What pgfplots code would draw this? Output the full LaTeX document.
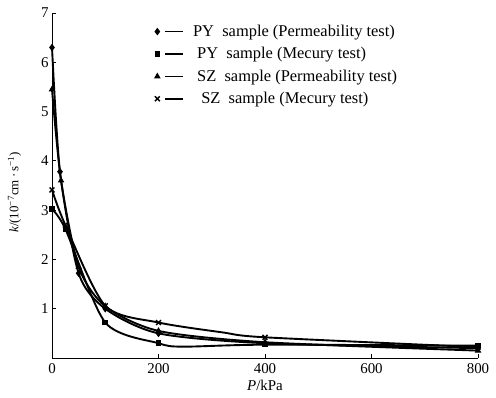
\documentclass[border=0pt]{standalone}
\usepackage{fontspec}
\setmainfont{Liberation Serif}
\usepackage{pgfplots}
\pgfplotsset{compat=1.18}
\begin{document}
\begin{tikzpicture}
\begin{axis}[
  scale only axis,
  width=426bp, height=345bp,
  xmin=0, xmax=800, ymin=0, ymax=7,
  axis lines*=left,
  axis line style={line width=1pt},
  xtick={0,200,400,600,800},
  ytick={1,2,3,4,5,6,7},
  tick align=inside,
  major tick length=4bp,
  tick style={line width=0.8pt,black},
  /pgf/number format/assume math mode=true,
  tick label style={font=\fontsize{15}{17}\selectfont},
  xticklabel style={yshift=-2bp},
  xlabel={\textit{P}/kPa},
  ylabel={\textit{k}/(10\textsuperscript{−7}cm\,·\,s\textsuperscript{−1})},
  every axis x label/.style={at={(rel axis cs:0.5,-0.078)},anchor=center,font=\fontsize{15}{17}\selectfont},
  every axis y label/.style={at={(rel axis cs:-0.088,0.48)},anchor=center,rotate=90,font=\fontsize{13}{15}\selectfont},
  clip=false,
  legend cell align=left,
  legend style={draw=none, fill=none, at={(rel axis cs:0.234,0.977)}, anchor=north west,
    font=\fontsize{16.5}{18}\selectfont, row sep=5.5bp,
    nodes={inner sep=2bp}},
  legend image code/.code={
    \draw[#1] plot coordinates {(0bp,0bp)};
    \draw[#1,mark=none,line width=1.5pt] (8bp,0bp) -- (26bp,0bp);
  },
  legend style={/tikz/every odd column/.append style={column sep=7bp}},
]
\addplot[black, line width=1.9pt, smooth, tension=0.45, mark=diamond*, mark size=3pt, mark options={solid,fill=black,line width=1pt}] coordinates {
 (0,6.3) (15,3.78) (50,1.72) (100,1.0) (200,0.5) (400,0.3) (800,0.2)};
\addlegendentry{PY\ \ sample (Permeability test)}
\addplot[black, line width=1.9pt, smooth, tension=0.45, mark=square*, mark size=2.3pt, mark options={solid,fill=black,line width=1pt}, mark indices={1,2,3,4,6,7}] coordinates {
 (0,3.02) (25,2.62) (100,0.72) (200,0.3) (245,0.23) (400,0.27) (800,0.25)};
\addlegendentry{\ PY\ \ sample (Mecury test)}
\addplot[black, line width=1.9pt, smooth, tension=0.45, mark=triangle*, mark size=2.8pt, mark options={solid,fill=black,line width=1pt}] coordinates {
 (0,5.45) (17,3.6) (50,1.85) (100,1.05) (200,0.55) (400,0.32) (800,0.15)};
\addlegendentry{\ SZ\ \ sample (Permeability test)}
\addplot[black, line width=1.9pt, smooth, tension=0.45, mark=x, mark size=3.5pt, mark options={solid,line width=1.4pt}, mark indices={1,2,3,4,6,7}] coordinates {
 (0,3.41) (25,2.7) (100,1.06) (200,0.72) (320,0.52) (400,0.42) (800,0.22)};
\addlegendentry{\ \ SZ\ \ sample (Mecury test)}
\coordinate (bl) at (rel axis cs:0,0);
\coordinate (tr) at (rel axis cs:1,1);
\end{axis}
\path (bl) ++(-52bp,-39bp) coordinate (BL);
\path (tr) ++(18bp,13bp) coordinate (TR);
\path (BL) rectangle (TR);
\end{tikzpicture}
\end{document}
